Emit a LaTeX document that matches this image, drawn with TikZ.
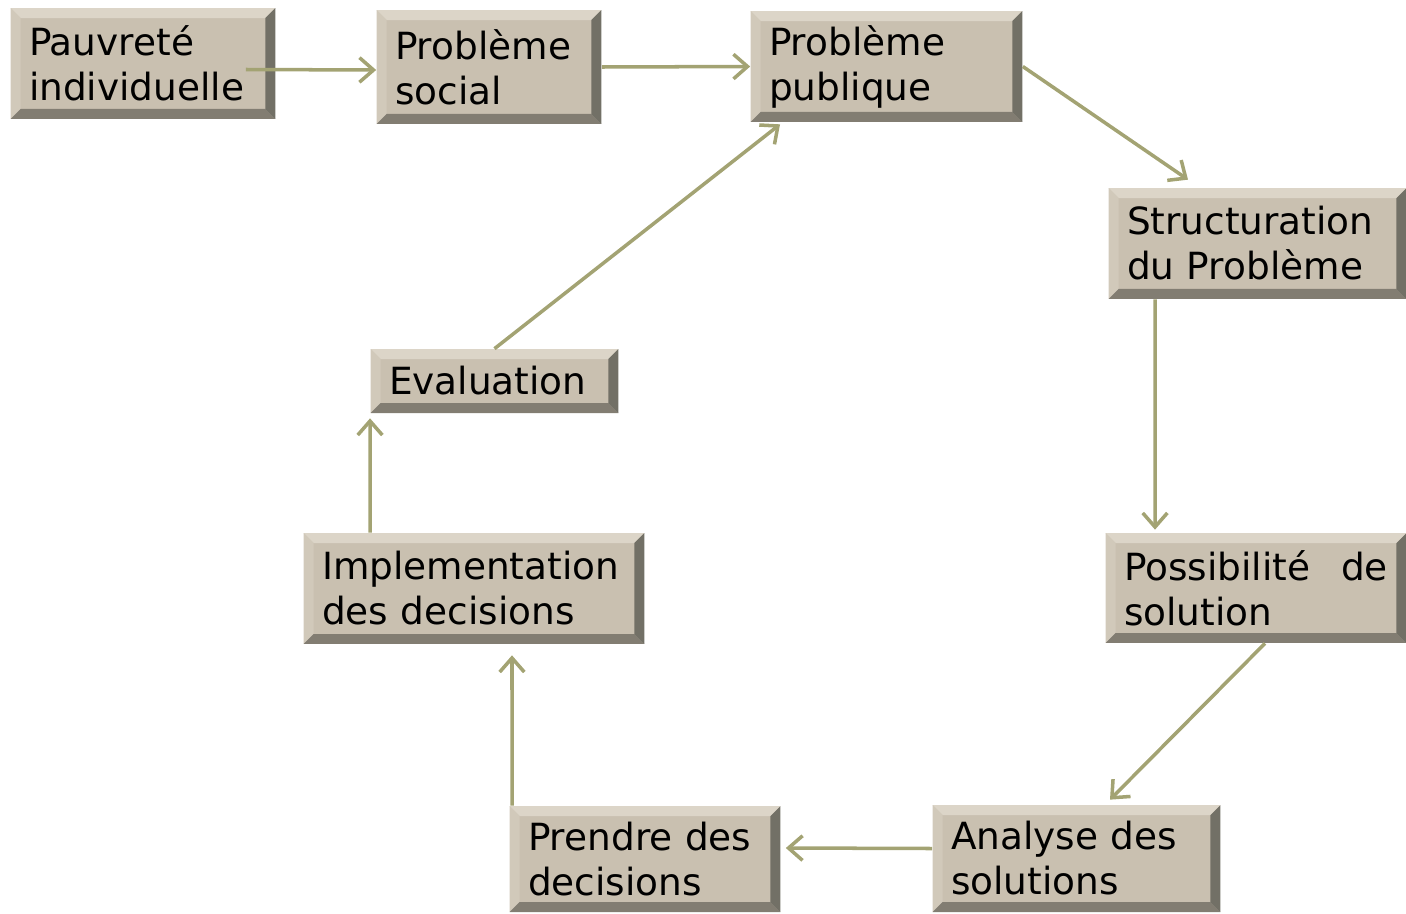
\documentclass[tikz,border=0pt]{standalone}
\usepackage{fontspec}
\setmainfont{DejaVu Sans}
\usetikzlibrary{arrows.meta}

\definecolor{facebox}{HTML}{C9C0B0}
\definecolor{bordhaut}{HTML}{DCD5C8}
\definecolor{bordgauche}{HTML}{D1C9BA}
\definecolor{bordbas}{HTML}{827D72}
\definecolor{borddroit}{HTML}{727066}
\definecolor{olive}{HTML}{A3A373}

\tikzset{
	etape/.style={rectangle, fill=facebox, inner xsep=0.37cm, inner ysep=0pt,
		align=left, font=\fontsize{21.3}{25.6}\selectfont,
		path picture={
			\coordinate (nw) at (path picture bounding box.north west);
			\coordinate (ne) at (path picture bounding box.north east);
			\coordinate (sw) at (path picture bounding box.south west);
			\coordinate (se) at (path picture bounding box.south east);
			\fill[bordhaut] (nw) -- (ne) -- ([shift={(-0.2cm,-0.2cm)}]ne) -- ([shift={(0.2cm,-0.2cm)}]nw) -- cycle;
			\fill[bordgauche] (nw) -- (sw) -- ([shift={(0.2cm,0.2cm)}]sw) -- ([shift={(0.2cm,-0.2cm)}]nw) -- cycle;
			\fill[bordbas] (sw) -- (se) -- ([shift={(-0.2cm,0.2cm)}]se) -- ([shift={(0.2cm,0.2cm)}]sw) -- cycle;
			\fill[borddroit] (ne) -- (se) -- ([shift={(-0.2cm,0.2cm)}]se) -- ([shift={(-0.2cm,-0.2cm)}]ne) -- cycle;
		}},
	fleche/.style={draw=olive, line width=2pt, -{Straight Barb[length=8pt,width=14pt]}}
}

\begin{document}
\begin{tikzpicture}
	[x=0.02cm,y=-0.02cm]
	\useasboundingbox (0,0) rectangle (1406,913);
	
	\node[etape, text width=4.56cm, minimum height=2.22cm] (pauvrete) at (143,63.5) {Pauvreté\\individuelle};
	\node[etape, text width=3.76cm, minimum height=2.28cm] (social) at (489,67) {Problème\\social};
	\node[etape, text width=4.70cm, minimum height=2.22cm] (publique) at (886.5,66.5) {Problème\\publique};
	\node[etape, text width=5.22cm, minimum height=2.22cm] (structuration) at (1257.5,243.5) {Structuration\\du Problème};
	\node[etape, text width=5.28cm, minimum height=2.20cm] (possibilite) at (1256,588) {Possibilité \hfill de\\solution};
	\node[etape, text width=5.02cm, minimum height=2.14cm] (analyse) at (1076.5,858.5) {Analyse des\\solutions};
	\node[etape, text width=4.68cm, minimum height=2.12cm] (decisions) at (645,859) {Prendre des\\decisions};
	\node[etape, text width=6.08cm, minimum height=2.22cm] (implementation) at (474,588.5) {Implementation\\des decisions};
	\node[etape, text width=4.22cm, minimum height=1.28cm] (evaluation) at (494.5,381) {Evaluation};
	
	\draw[fleche] ([xshift=-0.6cm,yshift=-0.12cm]pauvrete.east) -- ([yshift=-0.06cm]social.west);
	\draw[fleche] (social.east) -- (publique.west);
	\draw[fleche] (publique.east) -- ([xshift=-1.39cm,yshift=0.16cm]structuration.north);
	\draw[fleche] ([xshift=-2.05cm]structuration.south) -- ([xshift=-2.02cm,yshift=0.06cm]possibilite.north);
	\draw[fleche] ([xshift=0.18cm]possibilite.south) -- ([xshift=0.67cm,yshift=0.1cm]analyse.north);
	\draw[fleche] ([yshift=0.2cm]analyse.west) -- ([xshift=0.1cm,yshift=0.22cm]decisions.east);
	\draw[fleche] ([xshift=-2.66cm]decisions.north) -- ([xshift=0.76cm,yshift=-0.22cm]implementation.south);
	\draw[fleche] ([xshift=-2.08cm]implementation.north) -- ([xshift=-2.49cm,yshift=-0.1cm]evaluation.south);
	\draw[fleche] (evaluation.north) -- ([xshift=-2.13cm,yshift=-0.04cm]publique.south);
\end{tikzpicture}
\end{document}
